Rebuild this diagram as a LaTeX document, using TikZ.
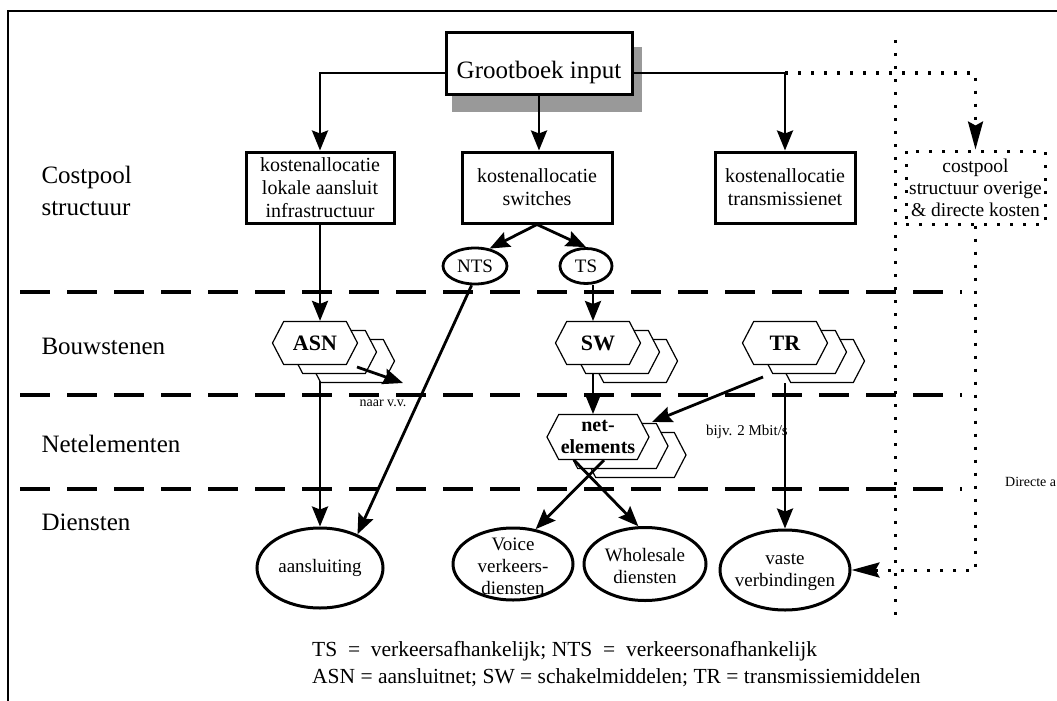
\documentclass[tikz,border=0pt]{standalone}
\usepackage{fontspec}
\setmainfont{Liberation Serif}
\usetikzlibrary{arrows.meta,shapes.geometric,shapes.symbols,calc}
\tikzset{
  kast/.style={draw, line width=3pt, align=center, inner sep=0pt, font=\fontsize{20}{23}\selectfont},
  ovaal/.style={ellipse, draw, line width=3pt, inner sep=0pt},
  ovtxt/.style={align=center, inner sep=0pt, font=\fontsize{19}{22}\selectfont},
  klok/.style={ellipse, draw, line width=2.8pt, inner sep=0pt, font=\fontsize{19}{19}\selectfont},
  zeshoek/.style={signal, signal to=east and west, signal pointer angle=125, draw, fill=white,
    line width=1.2pt, minimum width=85pt, minimum height=43pt, inner sep=0pt, align=center,
    font=\bfseries\fontsize{22}{22}\selectfont},
  lbl/.style={anchor=west, align=left, font=\fontsize{25}{32}\selectfont},
  klein/.style={inner sep=0pt, font=\fontsize{14}{16}\selectfont},
  pijl/.style={line width=2.8pt, -{Stealth[length=20pt,width=16pt,inset=3pt]}},
  stippel/.style={line width=3pt, dash pattern=on 3pt off 10pt},
  stippijl/.style={stippel, -{Stealth[length=28pt,width=15pt,inset=4pt]}},
  scheiding/.style={line width=4pt, dash pattern=on 30pt off 17pt}
}

\begin{document}
\begin{tikzpicture}[x=1pt, y=-1pt]
\useasboundingbox (0,0) rectangle (1057,701);
% kader en lagen
\draw[line width=2pt] (8,701) -- (8,11) -- (1060,11);
\foreach \y in {292,395,489}
  \draw[scheiding] (20,\y) -- (962,\y);
\draw[stippel] (895,40) -- (895,615);

\node[lbl] (lcp) at (38,191) {Costpool\\structuur};
\node[lbl] (lbw) at (38,346) {Bouwstenen};
\node[lbl] (lne) at (38,444) {Netelementen};
\node[lbl] (ldi) at (38,522) {Diensten};

% grootboek
\fill[black!40] (452,47) rectangle (642,112);
\node[draw, line width=3pt, fill=white, minimum width=186pt, text height=45pt, text depth=16pt,
  inner sep=0pt, font=\fontsize{25}{25}\selectfont] (gb) at (539,63.5) {Grootboek input};
\coordinate (rij) at (0,73);

% costpools
\node[kast, minimum width=148pt, minimum height=71pt] (kal) at (320,187.5) {kostenallocatie\\lokale aansluit\\infrastructuur};
\node[kast, minimum width=150pt, minimum height=71pt] (ksw) at (537,187.5) {kostenallocatie\\switches};
\node[kast, minimum width=140pt, minimum height=71pt] (ktr) at (785,187.5) {kostenallocatie\\transmissienet};
\node[kast, stippel, minimum width=139pt, minimum height=73pt, font=\fontsize{19.5}{22}\selectfont] (kov) at (975.5,187.5) {costpool\\structuur overige\\\& directe kosten};

\node[klok, minimum width=64pt, minimum height=36pt] (nts) at (475,266) {NTS};
\node[klok, minimum width=52pt, minimum height=35pt] (ts) at (586,266) {TS};

% diensten
\node[ovaal, minimum width=126pt, minimum height=80pt] (aans) at (320,568) {};
\node[ovtxt] (aanstxt) at (aans) {aansluiting};
\node[ovaal, minimum width=120pt, minimum height=72pt] (voice) at (513,564) {};
\node[ovtxt] (voicetxt) at (513,566) {Voice\\verkeers-\\diensten};
\node[ovaal, minimum width=122pt, minimum height=73pt] (whole) at (645,564) {};
\node[ovtxt] (wholetxt) at (645,566) {Wholesale\\diensten};
\node[ovaal, minimum width=130pt, minimum height=80pt] (vast) at (785,570) {};
\node[ovtxt] (vasttxt) at (785,572) {vaste\\verbindingen};

% lijnen onder de bouwstenen
\draw[pijl] (kal.south |- 0,374) -- (kal.south |- aans.north);
\draw[pijl] (593,374) -- (593,414);
\draw[pijl] (ktr.south |- 0,383) -- (vast.north);

% bouwstenen
\node[zeshoek] (asn3) at (352,361) {};
\node[zeshoek] (asn2) at (334,352) {};
\node[zeshoek] (asn) at (315,343) {ASN};
\node[zeshoek] (sw3) at (635,361) {};
\node[zeshoek] (sw2) at (617,352) {};
\node[zeshoek] (sw) at (598,343) {SW};
\node[zeshoek] (tr3) at (822,361) {};
\node[zeshoek] (tr2) at (804,352) {};
\node[zeshoek] (tr) at (785,343) {TR};
\node[zeshoek, minimum width=102pt, minimum height=45pt] (ne3) at (635,455) {};
\node[zeshoek, minimum width=102pt, minimum height=45pt] (ne2) at (617,446) {};
\node[zeshoek, minimum width=102pt, minimum height=45pt, font=\bfseries\fontsize{20}{22}\selectfont] (ne) at (598,437) {net-\\elements};

% pijlen
\draw[pijl] (gb.west |- rij) -- (kal.north |- rij) -- (kal.north);
\draw[pijl] (gb.east |- rij) -- (ktr.north |- rij) -- (ktr.north);
\draw[pijl] (gb.south) -- (gb.south |- ksw.north);
\draw[stippijl] (ktr.north |- rij) -- (kov.north |- rij) -- (kov.north);
\draw[stippijl] (kov.south) -- (kov.south |- vast.east) -- (vast.east);

\draw[pijl] (ksw.south) -- (nts.50);
\draw[pijl] (ksw.south) -- (ts.north);
\draw[pijl] (nts.-100) -- (aans.42);
\draw[pijl] (kal.south) -- (kal.south |- asn.north);
\draw[pijl] ($(ts.south)+(7,0)$) -- (593,321);

\coordinate (vvpt) at (403,383);
\draw[pijl] ($(asn.center)+(42,24)$) -- (vvpt);
\node[klein] (vv) at (383,403) {naar v.v.};

\draw[pijl] ($(tr.center)+(-22,34)$) -- ($(ne.center)+(54,-15)$);
\node[klein, font=\fontsize{15}{17}\selectfont] (mbit) at (747,432) {bijv. 2 Mbit/s};

\draw[pijl] ($(ne.south)+(6,0)$) -- (voice.57);
\draw[pijl] ($(ne.south)+(-24,0)$) -- (whole.100);

\node[klein, anchor=west] (dir) at (1005,482) {Directe a};

% legenda
\node[anchor=west, inner sep=0pt, font=\fontsize{21.5}{24}\selectfont] (leg1) at (312,651) {TS\hspace{0.5em}=\hspace{0.5em}verkeersafhankelijk; NTS\hspace{0.5em}=\hspace{0.5em}verkeersonafhankelijk};
\node[anchor=west, inner sep=0pt, font=\fontsize{21.5}{24}\selectfont] (leg2) at (312,678) {ASN = aansluitnet; SW = schakelmiddelen; TR = transmissiemiddelen};
\end{tikzpicture}
\end{document}
